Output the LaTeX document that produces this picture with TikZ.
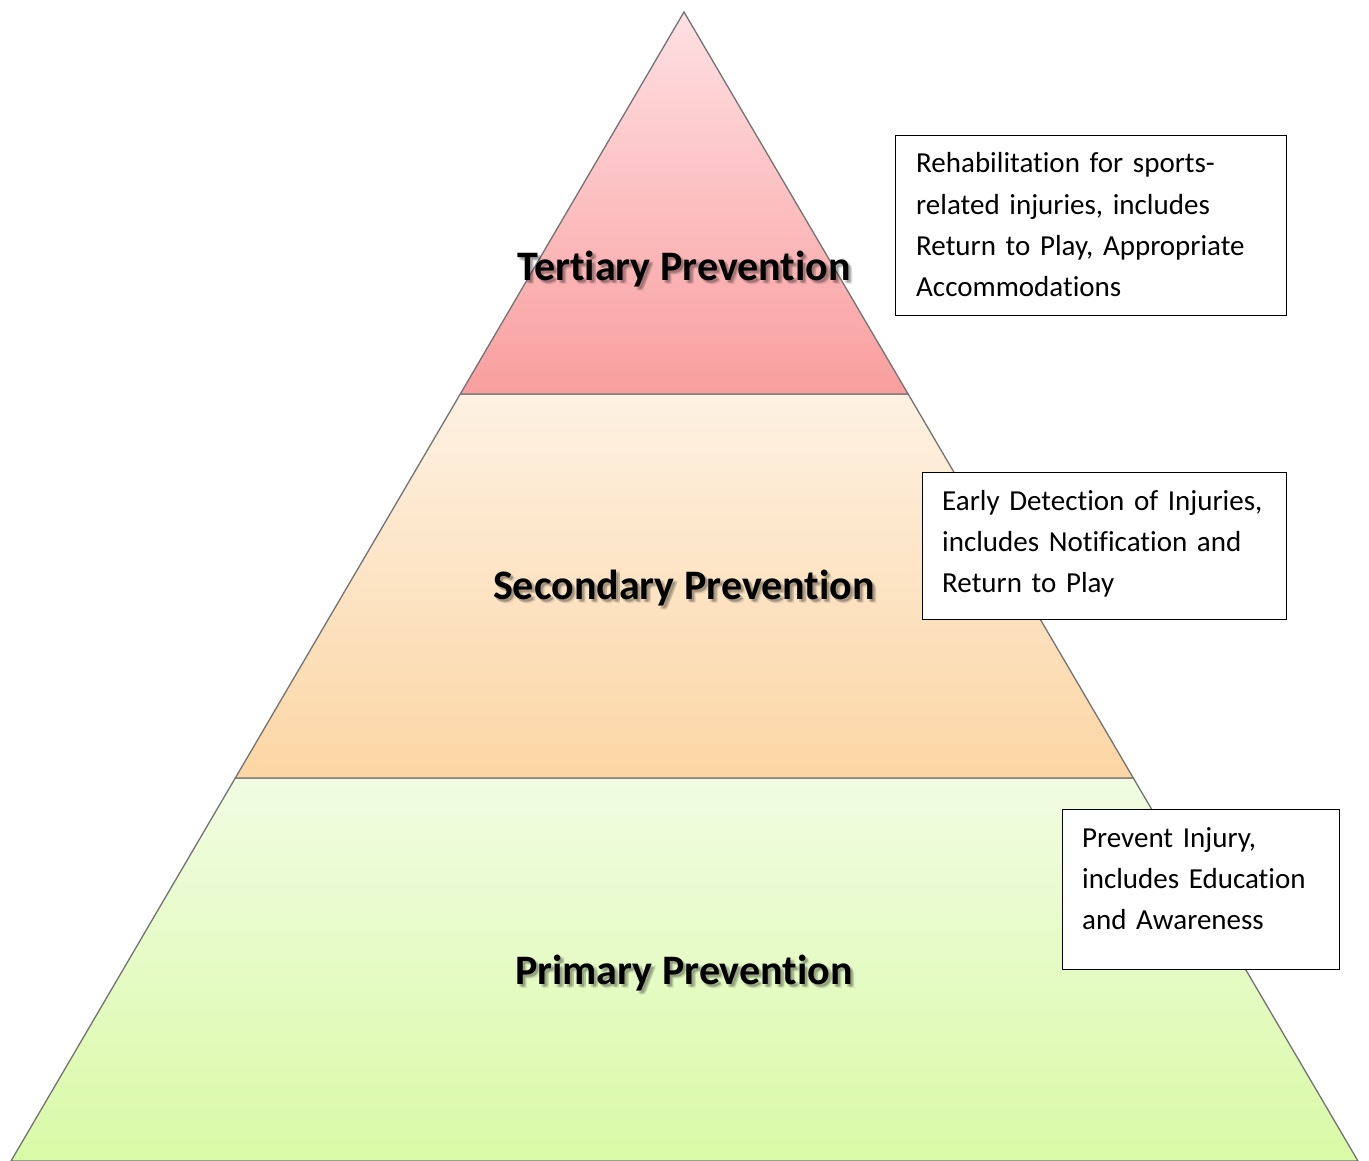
\documentclass[tikz,border=0pt]{standalone}
\usepackage{fontspec}
\setmainfont{Carlito}[Ligatures={NoCommon,NoContextual},RawFeature={-liga;-clig;-calt;-dlig}]
\definecolor{terTop}{RGB}{255,224,227}
\definecolor{terBot}{RGB}{249,158,158}
\definecolor{secTop}{RGB}{253,241,226}
\definecolor{secBot}{RGB}{252,214,164}
\definecolor{priTop}{RGB}{241,252,226}
\definecolor{priBot}{RGB}{217,250,166}
% one shadow copy of a text, shifted right by #1 and down by #2, at opacity #3
\newcommand\shcopy[4]{\rlap{\kern#1\raisebox{-#2}{\pgfsetfillopacity{#3}#4\pgfsetfillopacity{1}}}}
\newcommand\shadowtext[1]{\leavevmode
  \shcopy{2pt}{3pt}{0.16}{#1}\shcopy{3.5pt}{2pt}{0.14}{#1}%
  \shcopy{4pt}{4.5pt}{0.10}{#1}#1}
\begin{document}
\begin{tikzpicture}[x=1pt,y=-1pt,
  tier/.style={draw=black!55, line width=1.3pt},
  infobox/.style={draw=black, line width=1.4pt, fill=white, anchor=north west, inner sep=0pt},
  infotext/.style={anchor=base west, inner sep=0pt, align=left, text width=#1,
    font=\fontsize{29}{41.3}\selectfont},
  lbl/.style={anchor=base, inner sep=0pt, font=\fontsize{42}{50}\selectfont\bfseries}]
\useasboundingbox (0,0) rectangle (1369,1161);
\fill[white] (0,0) rectangle (1369,1161);
% pyramid corners
\coordinate (apex) at (684,12);
\coordinate (bl) at (11,1161);
\coordinate (br) at (1358,1161);
\coordinate (tl) at (460.3,394);
\coordinate (tr) at (908.1,394);
\coordinate (sl) at (235.3,778);
\coordinate (sr) at (1133.3,778);
% tiers
\draw[tier, top color=priTop, bottom color=priBot] (sl) -- (sr) -- (br) -- (bl) -- cycle;
\draw[tier, top color=secTop, bottom color=secBot] (tl) -- (tr) -- (sr) -- (sl) -- cycle;
\draw[tier, top color=terTop, bottom color=terBot] (apex) -- (tr) -- (tl) -- cycle;
% labels
\node[lbl] (tertiary) at (684,280) {\shadowtext{Tertiary Prevention}};
\node[lbl] (secondary) at (684,599) {\shadowtext{Secondary Prevention}};
\node[lbl] (primary) at (684,984) {\shadowtext{Primary Prevention}};
% boxes
\node[infobox, minimum width=391pt, minimum height=180pt] (box1) at (895,135) {};
\node[infobox, minimum width=364pt, minimum height=147pt] (box2) at (922,472) {};
\node[infobox, minimum width=277pt, minimum height=160pt] (box3) at (1062,809) {};
\node[infotext=365pt] (txt1) at (916,173) {Rehabilitation for sports-\\related injuries, includes\\Return to Play, Appropriate\\Accommodations};
\node[infotext=340pt] (txt2) at (942,510) {Early Detection of Injuries,\\includes Notification and\\Return to Play};
\node[infotext=255pt] (txt3) at (1082,847) {Prevent Injury,\\includes Education\\and Awareness};
\end{tikzpicture}
\end{document}
